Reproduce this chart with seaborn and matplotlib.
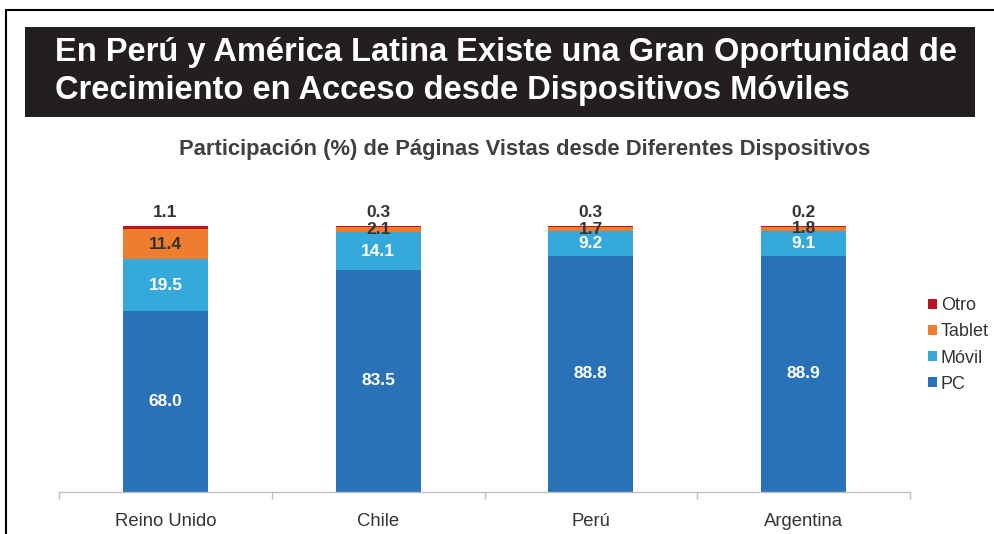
import matplotlib
matplotlib.use("Agg")
import matplotlib.pyplot as plt
from matplotlib.patches import Rectangle, Patch
from matplotlib.lines import Line2D
import seaborn as sns
import pandas as pd
import numpy as np

categories = ["Reino Unido", "Chile", "Perú", "Argentina"]
pc = [68.0, 83.5, 88.8, 88.9]
movil = [19.5, 14.1, 9.2, 9.1]
tablet = [11.4, 2.1, 1.7, 1.8]
otro = [1.1, 0.3, 0.3, 0.2]
series_names = ["PC", "Móvil", "Tablet", "Otro"]
colors = {"PC": "#2A72B8", "Móvil": "#35A9D9", "Tablet": "#EE7D30", "Otro": "#C0141C"}
label_colors = {"PC": "white", "Móvil": "white", "Tablet": "#333333", "Otro": "#333333"}

title_l1 = "En Perú y América Latina Existe una Gran Oportunidad de"
title_l2 = "Crecimiento en Acceso desde Dispositivos Móviles"
subtitle = "Participación (%) de Páginas Vistas desde Diferentes Dispositivos"

sns.set_theme(style="white")
plt.rcParams['font.family'] = ['Liberation Sans', 'DejaVu Sans']

W, H = 994, 534
fig = plt.figure(figsize=(W / 100, H / 100), dpi=100)

def fx(px):
    return px / W

def fy(py):
    return 1 - py / H

# frame lines
fig.add_artist(Line2D([fx(6), fx(6)], [fy(10), 0], color="black", lw=1.5, transform=fig.transFigure))
fig.add_artist(Line2D([fx(6), 1], [fy(10), fy(10)], color="black", lw=1.5, transform=fig.transFigure))

# title box
fig.add_artist(Rectangle((fx(25), fy(117)), fx(975) - fx(25), fy(27) - fy(117),
                         transform=fig.transFigure, facecolor="#231F20", edgecolor="none"))
fig.text(fx(55), fy(53), title_l1, color="white", fontsize=23.5, fontweight="bold", va="center", ha="left")
fig.text(fx(55), fy(91), title_l2, color="white", fontsize=23.5, fontweight="bold", va="center", ha="left")
fig.text(fx(525), fy(150), subtitle, color="#404040", fontsize=15.8, fontweight="bold", va="center", ha="center")

ax = fig.add_axes([fx(59), fy(492), fx(910) - fx(59), fy(226) - fy(492)])

series = {"PC": pc, "Móvil": movil, "Tablet": tablet, "Otro": otro}
df = pd.DataFrame({"cat": categories, **series})

bottoms = np.zeros(len(categories))
for name in series_names:
    vals = np.array(series[name])
    sns.barplot(x=df["cat"], y=vals, bottom=bottoms, color=colors[name], width=0.4,
                linewidth=0, saturation=1, ax=ax, order=categories)
    centers = bottoms + vals / 2
    for i, v in enumerate(vals):
        if name == "Otro":
            y = 100 + 5.2
        else:
            y = centers[i]
        ax.text(i, y, f"{v:.1f}", ha="center", va="center", color=label_colors[name],
                fontsize=12.5, fontweight="bold", clip_on=False)
    bottoms = bottoms + vals

ax.set_ylim(0, 100)
ax.set_xlim(-0.5, len(categories) - 0.5)
ax.set_xlabel("")
ax.set_ylabel("")
ax.set_yticks([])
for s in ["left", "right", "top"]:
    ax.spines[s].set_visible(False)
ax.spines["bottom"].set_color("#BFBFBF")
ax.spines["bottom"].set_linewidth(1)
ax.set_xticks(range(len(categories)))
ax.set_xticklabels(categories, fontsize=13.3, color="#333333")
ax.tick_params(axis="x", length=0, pad=15)
ax.set_xticks(np.arange(-0.5, len(categories)), minor=True)
ax.tick_params(axis="x", which="minor", length=5, color="#BFBFBF", width=1, bottom=True)

handles = [Patch(facecolor=colors[n], edgecolor="none", label=n) for n in ["Otro", "Tablet", "Móvil", "PC"]]
fig.legend(handles=handles, loc="center left", bbox_to_anchor=(fx(921), fy(345)), frameon=False,
           handlelength=0.5, handleheight=0.5, handletextpad=0.2, labelspacing=0.5,
           borderpad=0.2, borderaxespad=0.2, prop={"size": 13}, labelcolor="#333333")

fig.savefig("out.png", dpi=100)
